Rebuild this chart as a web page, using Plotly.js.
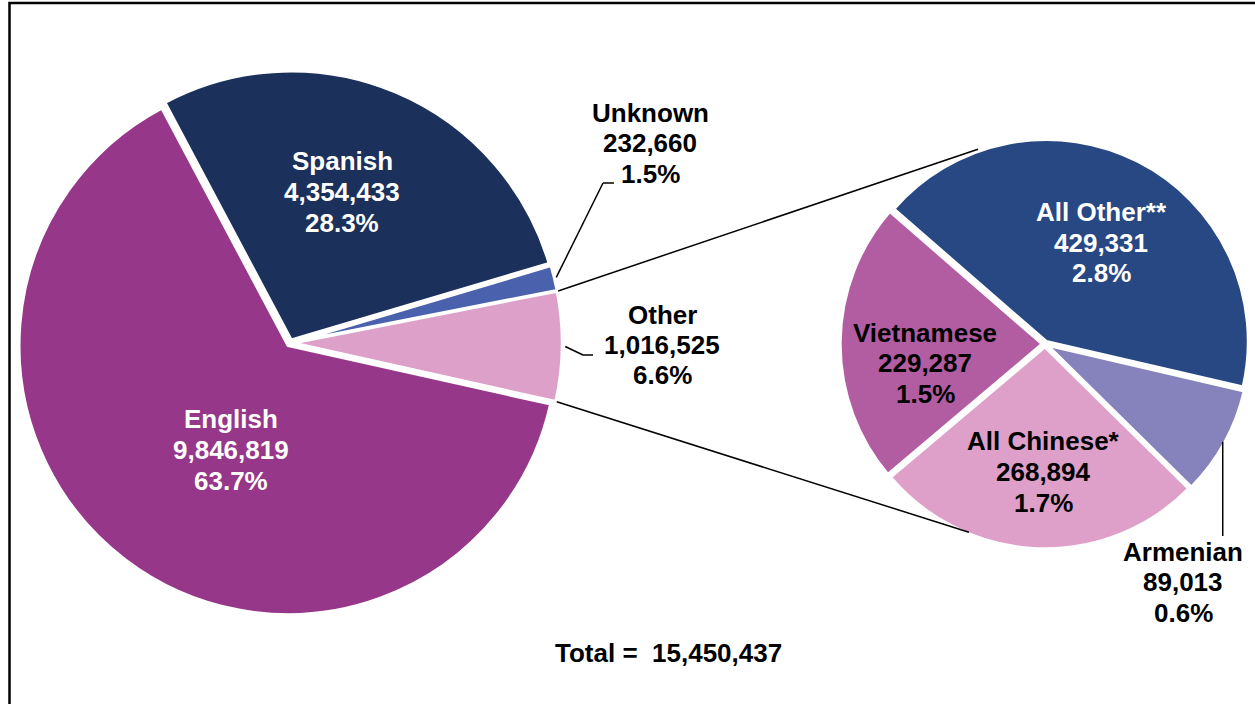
<!DOCTYPE html>
<html><head><meta charset="utf-8">
<script src="https://cdn.plot.ly/plotly-3.0.1.min.js"></script>
<style>html,body{margin:0;padding:0;background:#fff;} #chart{width:1255px;height:704px;}</style>
</head><body><div id="chart"></div>
<script>
// ---- main pie data ----
const mainLabels = ['Spanish', 'Unknown', 'Other', 'English'];
const mainValues = [4354433, 232660, 1016525, 9846819];
const mainPct = ['28.3%', '1.5%', '6.6%', '63.7%'];
const mainColors = ['#1B305A', '#4A62AD', '#DDA0C9', '#963789'];
const mainTextColors = ['#ffffff', '#000000', '#000000', '#ffffff'];
// ---- secondary pie data (breakdown of "Other") ----
const subLabels = ['All Other**', 'Armenian', 'All Chinese*', 'Vietnamese'];
const subValues = [429331, 89013, 268894, 229287];
const subPct = ['2.8%', '0.6%', '1.7%', '1.5%'];
const subColors = ['#284884', '#8682BB', '#DEA0C8', '#B25DA2'];
const subTextColors = ['#ffffff', '#000000', '#000000', '#000000'];
const totalLabel = 'Total =';

// ---- layout geometry (pixels) ----
const W = 1255, H = 704;
const G1 = {cx: 290, cy: 343, r: 269, pull: 0.012, rot: -28};
const G2 = {cx: 1045, cy: 344, r: 202, pull: 0.014, rot: -49};
const mainLabelPos = [[342, 192], [650, 143], [662, 345], [231, 450]];
const subLabelPos = [[1101, 243], [1183, 582], [1043, 472], [925, 363]];
const LINE_GAP = 30.5;
const FONT = 'Liberation Sans, Arial, sans-serif';
const FS = 26;

function px(x) { return x / W; }
function py(y) { return 1 - y / H; }
function dom(g) {
  const h = g.r * (1 + g.pull);
  return {x: [px(g.cx - h), px(g.cx + h)], y: [1 - (g.cy + h) / H, 1 - (g.cy - h) / H]};
}
function fmt(v) { return String(v).replace(/\B(?=(\d{3})+(?!\d))/g, ','); }
function sum(a) { return a.reduce((s, v) => s + v, 0); }
// angle (deg, clockwise from 12 o'clock) at cumulative fraction
function ang(g, vals, upto) { return g.rot + 360 * sum(vals.slice(0, upto)) / sum(vals); }
function midAng(g, vals, i) { return (ang(g, vals, i) + ang(g, vals, i + 1)) / 2; }
// pixel point on the rim of slice i at angle a
function rim(g, vals, i, a, extra) {
  const m = midAng(g, vals, i) * Math.PI / 180;
  const d = g.r * g.pull;
  const t = a * Math.PI / 180;
  const rr = g.r + (extra || 0);
  return [g.cx + d * Math.sin(m) + rr * Math.sin(t), g.cy - d * Math.cos(m) - rr * Math.cos(t)];
}

const traces = [
  {type: 'pie', labels: mainLabels, values: mainValues, sort: false, direction: 'clockwise',
   rotation: G1.rot, domain: dom(G1), pull: mainValues.map(() => G1.pull),
   marker: {colors: mainColors, line: {color: '#ffffff', width: 3}},
   textinfo: 'none', hoverinfo: 'label+value+percent', showlegend: false},
  {type: 'pie', labels: subLabels, values: subValues, sort: false, direction: 'clockwise',
   rotation: G2.rot, domain: dom(G2), pull: subValues.map(() => G2.pull),
   marker: {colors: subColors, line: {color: '#ffffff', width: 3}},
   textinfo: 'none', hoverinfo: 'label+value+percent', showlegend: false}
];

const annotations = [];
function addLabel(lines, pos, color) {
  lines.forEach((t, k) => {
    annotations.push({xref: 'paper', yref: 'paper', x: px(pos[0]), y: py(pos[1] + (k - 1) * LINE_GAP),
      text: t, showarrow: false, xanchor: 'center', yanchor: 'middle',
      font: {family: FONT, size: FS, color: color, weight: 700}});
  });
}
mainLabels.forEach((l, i) => addLabel([l, fmt(mainValues[i]), mainPct[i]], mainLabelPos[i], mainTextColors[i]));
subLabels.forEach((l, i) => addLabel([l, fmt(subValues[i]), subPct[i]], subLabelPos[i], subTextColors[i]));
annotations.push({xref: 'paper', yref: 'paper', x: px(669), y: py(652.5),
  text: totalLabel + '\u00a0\u00a0' + fmt(sum(mainValues)), showarrow: false, xanchor: 'center', yanchor: 'middle',
  font: {family: FONT, size: FS, color: '#000000', weight: 700}});

const shapes = [];
function seg(a, b, w) {
  shapes.push({type: 'line', xref: 'paper', yref: 'paper', x0: px(a[0]), y0: py(a[1]), x1: px(b[0]), y1: py(b[1]),
    line: {color: '#000000', width: w || 1.5}});
}
// connector lines from "Other" slice to secondary pie
const iOther = 2;
const pTop = rim(G1, mainValues, iOther, ang(G1, mainValues, iOther), 1);
const pBot = rim(G1, mainValues, iOther, ang(G1, mainValues, iOther + 1), 1);
const qTop = [G2.cx + (G2.r + 4) * Math.sin(341 * Math.PI / 180), G2.cy - (G2.r + 4) * Math.cos(341 * Math.PI / 180)];
const qBot = [G2.cx + (G2.r + 1) * Math.sin(202 * Math.PI / 180), G2.cy - (G2.r + 1) * Math.cos(202 * Math.PI / 180)];
seg(pTop, qTop); seg(pBot, qBot);
// leader lines
const uS = rim(G1, mainValues, 1, midAng(G1, mainValues, 1), 2);
seg(uS, [603, 183]); seg([603, 183], [614, 183]);
const oS = rim(G1, mainValues, 2, midAng(G1, mainValues, 2), 3);
seg(oS, [583, 355]); seg([583, 355], [593, 355]);
const aS = rim(G2, subValues, 1, midAng(G2, subValues, 1), -2);
seg(aS, [aS[0], 536]);
// outer frame
shapes.push({type: 'rect', xref: 'paper', yref: 'paper', x0: px(9.5), x1: 1.05, y0: -0.05, y1: py(3),
  line: {color: '#000000', width: 2.5}, fillcolor: 'rgba(0,0,0,0)'});

const layout = {width: W, height: H, margin: {l: 0, r: 0, t: 0, b: 0},
  paper_bgcolor: '#ffffff', plot_bgcolor: '#ffffff', showlegend: false,
  annotations: annotations, shapes: shapes};

Plotly.newPlot('chart', traces, layout, {displayModeBar: false, staticPlot: true});
</script></body></html>
